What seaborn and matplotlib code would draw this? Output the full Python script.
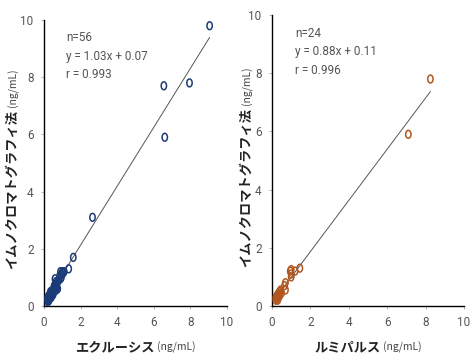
import numpy as np
import pandas as pd
import matplotlib
matplotlib.use("Agg")
import matplotlib.pyplot as plt
from matplotlib.path import Path
import seaborn as sns

# ---- data ----
ecl_x = [9.05, 6.55, 7.95, 6.6, 2.65, 1.6, 1.35,
         1.1, 1.0, 0.9, 0.95, 0.85, 0.9, 0.8, 1.05, 0.95, 0.75,
         0.6, 0.65, 0.55, 0.7, 0.75, 0.6, 0.5, 0.55, 0.65, 0.7,
         0.45, 0.5, 0.4, 0.45, 0.35, 0.4, 0.3, 0.35, 0.5, 0.55,
         0.3, 0.25, 0.25, 0.2, 0.2, 0.3, 0.35, 0.4, 0.25, 0.2,
         0.3, 0.45, 0.6, 0.5, 0.4, 0.35, 0.22, 0.28, 0.65]
ecl_y = [9.8, 7.7, 7.8, 5.9, 3.1, 1.7, 1.3,
         1.2, 1.2, 1.2, 1.1, 1.05, 0.95, 0.9, 1.15, 1.0, 0.85,
         0.95, 0.85, 0.7, 0.65, 0.6, 0.75, 0.5, 0.6, 0.7, 0.75,
         0.55, 0.45, 0.5, 0.4, 0.45, 0.35, 0.4, 0.3, 0.55, 0.5,
         0.3, 0.35, 0.25, 0.2, 0.3, 0.25, 0.4, 0.45, 0.2, 0.25,
         0.35, 0.5, 0.6, 0.4, 0.3, 0.5, 0.15, 0.2, 0.55]
lum_x = [8.25, 7.1, 1.45, 1.2, 1.0, 0.95, 1.0, 1.0, 0.7, 0.65, 0.7, 0.45,
         0.4, 0.35, 0.3, 0.25, 0.2, 0.2, 0.25, 0.3, 0.4, 0.35, 0.5, 0.3]
lum_y = [7.8, 5.9, 1.3, 1.2, 1.25, 1.2, 1.1, 1.0, 0.8, 0.7, 0.55, 0.55,
         0.5, 0.45, 0.4, 0.35, 0.3, 0.2, 0.25, 0.3, 0.35, 0.3, 0.45, 0.2]
ecl_fit = (1.03, 0.07)
lum_fit = (0.88, 0.11)
ecl_stats = ["n=56", "y = 1.03x + 0.07", "r = 0.993"]
lum_stats = ["n=24", "y = 0.88x + 0.11", "r = 0.996"]
ticks = [0, 2, 4, 6, 8, 10]
ylab_jp = "イムノクロマトグラフィ法"
xlab_ecl = "エクルーシス"
xlab_lum = "ルミパルス"
unit = "(ng/mL)"

sns.set_style("ticks")
NARROW = ["Roboto", "DejaVu Sans"]
JP = ["Noto Sans CJK JP", "DejaVu Sans"]
plt.rcParams["font.family"] = NARROW

# elliptical open-circle marker (taller than wide)
t = np.linspace(0, 2 * np.pi, 40)
ell = Path(np.column_stack([0.68 * np.cos(t), np.sin(t)]), closed=True)

fig = plt.figure(figsize=(4.72, 3.55), dpi=100)
W, H = 472, 355
def axpos(x0, x1, ytop, ybot):
    return [x0 / W, 1 - ybot / H, (x1 - x0) / W, (ybot - ytop) / H]

ax1 = fig.add_axes(axpos(44, 227, 20, 306))
ax2 = fig.add_axes(axpos(272, 464, 15, 306))

panels = [
    (ax1, ecl_x, ecl_y, ecl_fit, ecl_stats, "#1b3a78"),
    (ax2, lum_x, lum_y, lum_fit, lum_stats, "#b0561e"),
]
for ax, xs, ys, fit, stats, col in panels:
    df = pd.DataFrame({"x": xs, "y": ys})
    xr = np.array([min(xs), max(xs)])
    line = pd.DataFrame({"x": xr, "y": fit[0] * xr + fit[1]})
    sns.lineplot(data=line, x="x", y="y", ax=ax, color="#555555", lw=0.7)
    sns.scatterplot(data=df, x="x", y="y", ax=ax, marker=ell, s=32,
                    facecolor="none", edgecolor=col, linewidth=1.1, zorder=3)
    ax.set_xlim(0, 10)
    ax.set_ylim(0, 10)
    ax.set_xticks(ticks)
    ax.set_yticks(ticks)
    ax.set_xlabel("")
    ax.set_ylabel("")
    ax.tick_params(length=2.5, width=0.6, color="#aaaaaa", labelcolor="#555555",
                   labelsize=8.5, pad=5)
    for s in ("left", "bottom"):
        ax.spines[s].set_color("black")
        ax.spines[s].set_linewidth(1.0)
    sns.despine(ax=ax)
    for i, s in enumerate(stats):
        ax.text(0.12, 0.96 - i * 0.064, s, transform=ax.transAxes,
                fontsize=8.5, color="#555555", va="top", ha="left",
                family=NARROW)

fig.canvas.draw()
r = fig.canvas.get_renderer()

def width_px(txt, **kw):
    tt = fig.text(0, 0, txt, **kw)
    bb = tt.get_window_extent(r)
    tt.remove()
    return bb.width

jp_kw = dict(fontsize=9.5, fontweight="bold", family=JP, color="#222222")
un_kw = dict(fontsize=7.5, family=JP, color="#444444")
gap = 3

# y labels (rotated), centred on each axes
for ax, xpix in ((ax1, 12), (ax2, 246)):
    bb = ax.get_window_extent(r)
    wj = width_px(ylab_jp, **jp_kw)
    wu = width_px(unit, **un_kw)
    total = wj + gap + wu
    ystart = (bb.y0 + bb.y1) / 2 - total / 2 - 6   # display px from bottom
    fig.text(xpix / W, ystart / H, ylab_jp, rotation=90, ha="center",
             va="bottom", **jp_kw)
    fig.text((xpix + 1) / W, (ystart + wj + gap) / H, unit, rotation=90,
             ha="center", va="bottom", **un_kw)

# x labels, centred under each axes
for ax, xl in ((ax1, xlab_ecl), (ax2, xlab_lum)):
    bb = ax.get_window_extent(r)
    wj = width_px(xl, **jp_kw)
    wu = width_px(unit, **un_kw)
    total = wj + gap + wu
    x0 = (bb.x0 + bb.x1) / 2 - total / 2
    fig.text(x0 / W, 1 - 347 / H, xl, ha="left", va="center", **jp_kw)
    fig.text((x0 + wj + gap) / W, 1 - 347 / H, unit, ha="left",
             va="center", **un_kw)

fig.savefig("out.png", dpi=100)
